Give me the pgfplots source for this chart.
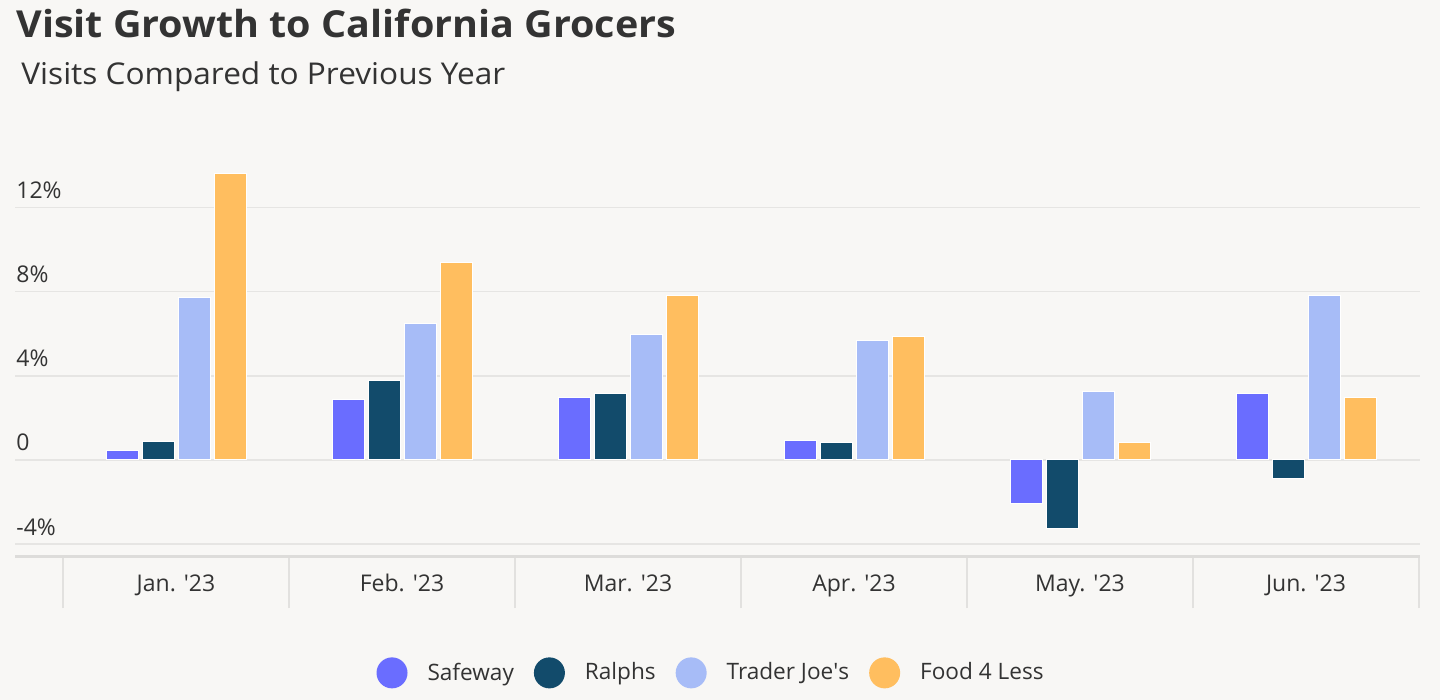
\documentclass[border=0pt]{standalone}
\usepackage{fontspec}
\setmainfont{Open Sans}
\newfontfamily\titlefont[FakeStretch=1.062]{Open Sans}
\newfontfamily\subtitlefont[FakeStretch=1.053]{Open Sans}
\usepackage{pgfplots}
\pgfplotsset{compat=1.18}
\definecolor{bg}{HTML}{F8F7F5}
\definecolor{txt}{HTML}{333333}
\definecolor{gridc}{HTML}{E6E5E3}
\definecolor{axisc}{HTML}{DDDCDA}
\definecolor{sepc}{HTML}{E2E1DF}
\definecolor{safeway}{HTML}{6A6DFF}
\definecolor{ralphs}{HTML}{124B6B}
\definecolor{tj}{HTML}{A7BCF7}
\definecolor{ffl}{HTML}{FFBE5F}
\begin{document}
\begin{tikzpicture}
\fill[bg] (0,0) rectangle (720pt,350pt);
\useasboundingbox (0,0) rectangle (720pt,350pt);
\node[anchor=base west, inner sep=0pt, text=txt, font=\titlefont\fontsize{18.6}{20}\selectfont\bfseries] at (8pt,331pt) {Visit Growth to California Grocers};
\node[anchor=base west, inner sep=0pt, text=txt, font=\subtitlefont\fontsize{15}{17}\selectfont] at (10.5pt,307.5pt) {Visits Compared to Previous Year};
\begin{axis}[
  at={(7.5pt,71.75pt)}, anchor=south west, scale only axis,
  width=702.5pt, height=206.2pt,
  xmin=-0.7124, xmax=5.5044, ymin=-4.582, ymax=15,
  axis lines*=left,
  y axis line style={draw=none},
  x axis line style={draw=axisc, line width=1.5pt},
  xtick={-0.5,0.5,1.5,2.5,3.5,4.5,5.5}, xticklabels={},
  major tick length=25.75pt, tick align=outside,
  xtick style={draw=sepc, line width=1pt},
  extra x ticks={0,1,2,3,4,5},
  extra x tick labels={Jan. \textquotesingle23,Feb. \textquotesingle23,Mar. \textquotesingle23,Apr. \textquotesingle23,May. \textquotesingle23,Jun. \textquotesingle23},
  extra x tick style={major tick length=0pt, xtick style={draw=none}, xticklabel style={anchor=base, inner sep=0pt, yshift=-17.6pt}},
  ytick={-4,0,4,8,12}, yticklabels={-4\%,0,4\%,8\%,12\%},
  ytick style={draw=none},
  yticklabel style={anchor=base west, inner sep=0pt, xshift=26.25pt, yshift=4.5pt},
  tick label style={text=txt, font=\fontsize{11.5}{14}\selectfont},
  ymajorgrids, grid style={draw=gridc, line width=0.75pt},
  ybar=2pt, bar width=16pt,
  legend columns=4,
  legend image code/.code={\fill[#1, draw=none] (7.75pt,0pt) circle (7.75pt);},
  legend style={at={(0.4947,-0.2822)}, anchor=center, draw=none, fill=none,
    font=\fontsize{11.3}{14}\selectfont, text=txt, nodes={inner sep=0pt},
    /tikz/every odd column/.append style={column sep=10pt},
    /tikz/every even column/.append style={column sep=10pt}},
]
\addplot[fill=safeway, draw=white, line width=0.5pt] coordinates {(0,0.44) (1,2.86) (2,2.95) (3,0.94) (4,-2.06) (5,3.17)};
\addplot[fill=ralphs, draw=white, line width=0.5pt] coordinates {(0,0.86) (1,3.76) (2,3.16) (3,0.84) (4,-3.25) (5,-0.86)};
\addplot[fill=tj, draw=white, line width=0.5pt] coordinates {(0,7.70) (1,6.48) (2,5.98) (3,5.67) (4,3.27) (5,7.81)};
\addplot[fill=ffl, draw=white, line width=0.5pt] coordinates {(0,13.62) (1,9.40) (2,7.81) (3,5.87) (4,0.84) (5,2.95)};
\legend{Safeway,Ralphs,Trader Joe\textquotesingle s,Food 4 Less}
\end{axis}
\end{tikzpicture}
\end{document}
